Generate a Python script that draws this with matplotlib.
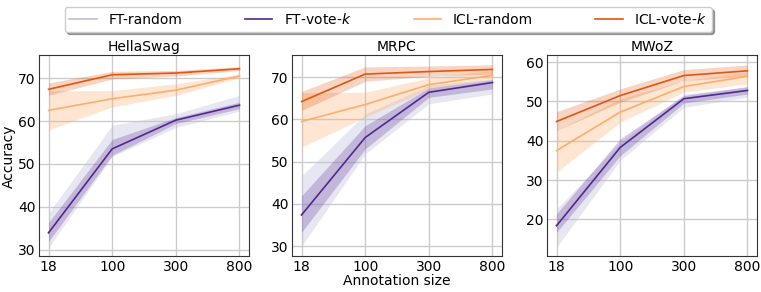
import matplotlib
matplotlib.use('Agg')
import matplotlib.pyplot as plt
import numpy as np

# annotation sizes (categorical x axis)
sizes = ['18', '100', '300', '800']
tasks = ['HellaSwag', 'MRPC', 'MWoZ']
methods = ['FT-random', 'FT-vote-$k$', 'ICL-random', 'ICL-vote-$k$']

# mean accuracy per task, per method
hella_mean = {
    'FT-random': [34.0, 53.6, 60.2, 63.7],
    'FT-vote-$k$': [33.9, 53.5, 60.2, 63.7],
    'ICL-random': [62.5, 65.2, 67.2, 70.5],
    'ICL-vote-$k$': [67.4, 70.8, 71.2, 72.2],
}
hella_low = {
    'FT-random': [30.4, 51.7, 58.5, 62.3],
    'FT-vote-$k$': [31.9, 52.0, 59.4, 62.9],
    'ICL-random': [57.9, 63.3, 66.0, 70.1],
    'ICL-vote-$k$': [66.0, 69.8, 70.5, 71.8],
}
hella_high = {
    'FT-random': [38.5, 59.0, 61.7, 66.0],
    'FT-vote-$k$': [36.3, 55.7, 60.8, 64.4],
    'ICL-random': [67.1, 67.1, 68.7, 71.0],
    'ICL-vote-$k$': [68.9, 71.6, 71.8, 72.7],
}

mrpc_mean = {
    'FT-random': [37.5, 55.8, 66.4, 68.6],
    'FT-vote-$k$': [37.4, 55.7, 66.4, 68.7],
    'ICL-random': [59.5, 63.5, 68.2, 70.4],
    'ICL-vote-$k$': [64.2, 70.7, 71.3, 71.8],
}
mrpc_low = {
    'FT-random': [30.0, 51.8, 63.7, 66.0],
    'FT-vote-$k$': [33.3, 53.0, 65.2, 67.2],
    'ICL-random': [53.4, 60.5, 67.1, 69.6],
    'ICL-vote-$k$': [62.1, 69.0, 70.2, 70.7],
}
mrpc_high = {
    'FT-random': [46.6, 61.3, 68.0, 69.6],
    'FT-vote-$k$': [41.9, 58.5, 67.4, 69.4],
    'ICL-random': [66.3, 66.4, 69.8, 71.6],
    'ICL-vote-$k$': [66.6, 72.4, 72.6, 72.9],
}

mwoz_mean = {
    'FT-random': [18.5, 38.2, 50.6, 52.7],
    'FT-vote-$k$': [18.4, 38.3, 50.7, 52.8],
    'ICL-random': [37.5, 47.3, 53.8, 56.4],
    'ICL-vote-$k$': [44.9, 51.5, 56.6, 57.8],
}
mwoz_low = {
    'FT-random': [12.9, 35.0, 48.5, 51.1],
    'FT-vote-$k$': [16.7, 36.2, 49.6, 51.9],
    'ICL-random': [32.0, 44.7, 52.4, 54.5],
    'ICL-vote-$k$': [42.6, 49.8, 55.3, 56.4],
}
mwoz_high = {
    'FT-random': [22.6, 39.6, 51.9, 53.6],
    'FT-vote-$k$': [21.4, 40.5, 51.5, 53.8],
    'ICL-random': [42.6, 50.7, 55.3, 57.6],
    'ICL-vote-$k$': [47.4, 53.2, 58.1, 59.3],
}

colors = {
    'FT-random': '#bcbddc',
    'FT-vote-$k$': '#54278f',
    'ICL-random': '#fdae6b',
    'ICL-vote-$k$': '#e6550d',
}
band_alpha = {
    'FT-random': 0.35,
    'FT-vote-$k$': 0.25,
    'ICL-random': 0.3,
    'ICL-vote-$k$': 0.25,
}

panels = [
    (hella_mean, hella_low, hella_high, (28.4, 75.3), [30, 40, 50, 60, 70]),
    (mrpc_mean, mrpc_low, mrpc_high, (27.6, 75.1), [30, 40, 50, 60, 70]),
    (mwoz_mean, mwoz_low, mwoz_high, (10.6, 61.7), [20, 30, 40, 50, 60]),
]

fig = plt.figure(figsize=(7.61, 2.92), dpi=100)
lefts = [39 / 761, 292 / 761, 547 / 761]
x = np.arange(len(sizes))
handles = []
for i, (mean, low, high, ylim, yticks) in enumerate(panels):
    ax = fig.add_axes([lefts[i], 0.122, 210 / 761, 0.688])
    for m in methods:
        ax.fill_between(x, low[m], high[m], color=colors[m],
                        alpha=band_alpha[m], linewidth=0)
        line, = ax.plot(x, mean[m], color=colors[m], linewidth=1.2, label=m)
        if i == 0:
            handles.append(line)
    ax.set_xticks(x)
    ax.set_xticklabels(sizes)
    ax.set_yticks(yticks)
    ax.tick_params(labelsize=10, length=0, pad=2.5)
    ax.set_ylim(*ylim)
    ax.set_title(tasks[i], fontsize=10, pad=3)
    ax.grid(True, color='#cccccc', linewidth=1)
    ax.set_axisbelow(True)
    for s in ax.spines.values():
        s.set_color('#333333')
    if i == 0:
        ax.set_ylabel('Accuracy', fontsize=10, labelpad=1.5)
    if i == 1:
        ax.set_xlabel('Annotation size', fontsize=10, labelpad=0)

fig.legend(handles, methods, loc='upper center', bbox_to_anchor=(0.51, 1.0),
           ncol=4, fontsize=10, columnspacing=4.5, handlelength=2,
           shadow=True, fancybox=True, borderpad=0.35)

fig.savefig('out.png', dpi=100)
